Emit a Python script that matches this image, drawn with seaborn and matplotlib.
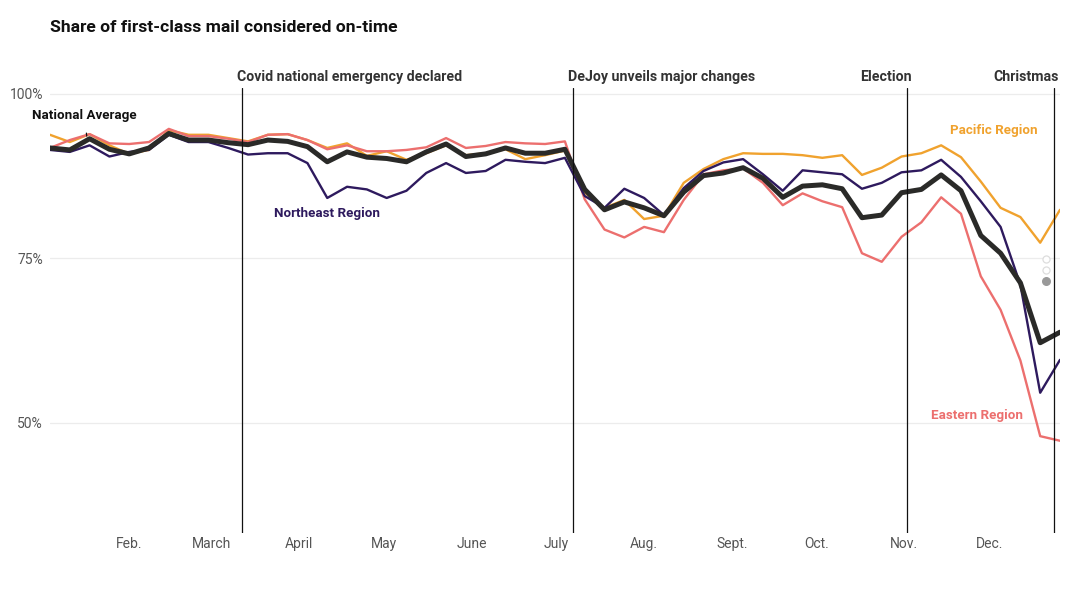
import matplotlib
matplotlib.use("Agg")
import matplotlib.pyplot as plt
import seaborn as sns
import pandas as pd

# ---------------- data (weekly) ----------------
start_date = "2020-01-04"
n_weeks = 52

national = [91.8, 91.5, 93.2, 91.6, 90.9, 91.8, 94.0, 93.0, 93.0, 92.6,
            92.3, 93.0, 92.8, 92.0, 89.7, 91.2, 90.4, 90.2, 89.7, 91.2,
            92.4, 90.5, 90.9, 91.8, 91.0, 91.0, 91.6, 85.5, 82.4, 83.6,
            82.7, 81.5, 85.1, 87.6, 88.0, 88.8, 87.2, 84.3, 86.0, 86.2,
            85.6, 81.2, 81.6, 85.0, 85.5, 87.7, 85.3, 78.5, 75.8, 71.3,
            62.2, 63.8]

eastern = [91.8, 93.0, 93.9, 92.5, 92.4, 92.7, 94.7, 93.6, 93.6, 93.2,
           92.7, 93.8, 93.9, 93.0, 91.6, 92.2, 91.3, 91.3, 91.5, 91.9,
           93.3, 91.8, 92.1, 92.7, 92.5, 92.4, 92.8, 84.0, 79.4, 78.2,
           79.8, 79.0, 83.9, 87.8, 88.4, 88.7, 86.5, 83.1, 84.9, 83.7,
           82.8, 75.8, 74.5, 78.3, 80.5, 84.3, 81.8, 72.3, 67.2, 59.5,
           48.0, 47.3]

pacific = [93.8, 92.7, 93.9, 92.2, 90.9, 91.5, 94.5, 93.8, 93.8, 93.3,
           92.8, 93.8, 93.9, 93.0, 91.8, 92.5, 90.6, 91.3, 90.0, 91.0,
           92.2, 90.7, 91.0, 91.6, 90.1, 90.7, 91.4, 85.0, 82.7, 83.9,
           81.0, 81.5, 86.5, 88.6, 90.1, 91.0, 90.9, 90.9, 90.7, 90.3,
           90.7, 87.7, 88.8, 90.5, 91.0, 92.2, 90.4, 86.7, 82.7, 81.3,
           77.4, 82.4]

northeast = [91.5, 91.2, 92.2, 90.5, 91.2, 91.5, 93.8, 92.7, 92.7, 91.8,
             90.8, 91.0, 91.0, 89.5, 84.2, 85.9, 85.5, 84.2, 85.3, 88.0,
             89.5, 88.0, 88.3, 90.0, 89.7, 89.5, 90.3, 84.5, 82.7, 85.6,
             84.2, 81.6, 85.7, 88.3, 89.6, 90.1, 87.8, 85.3, 88.4, 88.1,
             87.8, 85.6, 86.5, 88.1, 88.4, 90.0, 87.4, 83.7, 79.8, 71.0,
             54.6, 59.6]

event_dates = ["2020-03-12", "2020-07-07", "2020-11-02", "2020-12-24"]
event_labels = ["Covid national emergency declared", "DeJoy unveils major changes",
                "Election", "Christmas"]
event_align = ["left", "left", "right", "right"]

month_ticks = ["2020-02-01", "2020-03-01", "2020-04-01", "2020-05-01", "2020-06-01",
               "2020-07-01", "2020-08-01", "2020-09-01", "2020-10-01", "2020-11-01",
               "2020-12-01"]
month_labels = ["Feb.", "March", "April", "May", "June", "July", "Aug.", "Sept.",
                "Oct.", "Nov.", "Dec."]

y_ticks = [50, 75, 100]
y_labels = ["50%", "75%", "100%"]

# ---------------- styling ----------------
sns.set_theme(style="white")
plt.rcParams["font.family"] = ["Roboto", "DejaVu Sans"]

c_pac = "#F0A22E"
c_east = "#EC6F6E"
c_ne = "#2E1A5E"
c_nat = "#2A2A28"

dates = pd.date_range(start_date, periods=n_weeks, freq="7D")
df = pd.DataFrame({"date": dates, "National Average": national,
                   "Eastern Region": eastern, "Pacific Region": pacific,
                   "Northeast Region": northeast})

fig = plt.figure(figsize=(10.8, 6.01), dpi=100)
W, H = 1080, 601
ax = fig.add_axes([50 / W, 1 - 533 / H, 1010 / W, 445 / H])

top = 100 + 6 / 6.58
ax.set_ylim(top - 445 / 6.58, top)
ax.set_xlim(dates[0], dates[-1])

for v in y_ticks:
    ax.axhline(v, color="#ececec", lw=0.9, zorder=0)

sns.lineplot(data=df, x="date", y="Pacific Region", ax=ax, color=c_pac, lw=1.7, zorder=2)
sns.lineplot(data=df, x="date", y="Eastern Region", ax=ax, color=c_east, lw=1.7, zorder=3)
sns.lineplot(data=df, x="date", y="Northeast Region", ax=ax, color=c_ne, lw=1.7, zorder=4)
sns.lineplot(data=df, x="date", y="National Average", ax=ax, color=c_nat, lw=3.6, zorder=5)

# event lines
for d, lab, al in zip(event_dates, event_labels, event_align):
    dd = pd.Timestamp(d)
    ax.axvline(dd, ymin=0, ymax=1, color="#111111", lw=0.9, zorder=6)
    off = pd.Timedelta(days=-1.8) if al == "left" else pd.Timedelta(days=1.6)
    ax.text(dd + off, top + 1.7, lab, ha=al, va="center", fontsize=10.2,
            fontweight="bold", color="#333333", clip_on=False)

# series labels
ax.annotate("National Average", xy=(pd.Timestamp("2020-01-17"), 93.6),
            xytext=(pd.Timestamp("2020-01-16"), 96.8), ha="center", va="center",
            fontsize=9.6, fontweight="bold", color="#111111",
            arrowprops=dict(arrowstyle="-", color="#111111", lw=0.9,
                            shrinkA=6, shrinkB=0), annotation_clip=False)
ax.text(pd.Timestamp("2020-03-23"), 81.8, "Northeast Region", ha="left", va="center",
        fontsize=9.6, fontweight="bold", color=c_ne)
ax.text(pd.Timestamp("2020-12-18"), 94.4, "Pacific Region", ha="right", va="center",
        fontsize=9.6, fontweight="bold", color=c_pac)
ax.text(pd.Timestamp("2020-12-13"), 51.1, "Eastern Region", ha="right", va="center",
        fontsize=9.6, fontweight="bold", color=c_east)

# pager dots
ax.scatter([0.986, 0.986], [0.616, 0.591], s=26, facecolors="white",
           edgecolors="#dddddd", linewidths=0.9, transform=ax.transAxes, zorder=7,
           clip_on=False)
ax.scatter([0.986], [0.566], s=30, color="#999999", transform=ax.transAxes, zorder=7,
           clip_on=False)

# axes
ax.set_yticks(y_ticks)
ax.set_yticklabels(y_labels)
ax.set_xticks([pd.Timestamp(t) for t in month_ticks])
ax.set_xticklabels(month_labels)
ax.tick_params(axis="y", length=0, pad=5, labelsize=10, labelcolor="#555555")
ax.tick_params(axis="x", direction="in", length=6, width=0.8, color="#dddddd",
               pad=3, labelsize=10, labelcolor="#555555")
ax.set_xlabel("")
ax.set_ylabel("")
for s in ax.spines.values():
    s.set_visible(False)
ax.set_facecolor("white")

fig.text(50 / W, 1 - 28 / H, "Share of first-class mail considered on-time",
         ha="left", va="center", fontsize=12.6, fontweight="bold", color="#111111")

fig.savefig("out.png", dpi=100, facecolor="white")
